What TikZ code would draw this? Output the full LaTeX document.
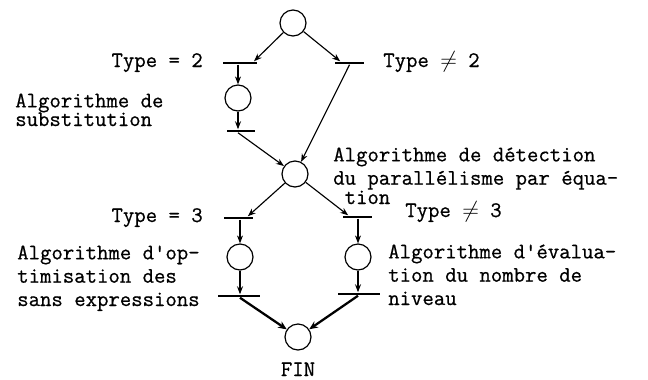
\documentclass[tikz,border=0pt]{standalone}
\usepackage{fontspec}
\newfontfamily\typewriter{Latin Modern Mono}[FakeBold=0.7]
\usepackage{tikz}
\usetikzlibrary{arrows.meta}
\tikzstyle{place} = [circle, draw=black, line width=0.9pt, minimum size=19.5pt, inner sep=0pt]
\tikzstyle{transition} = [rectangle, fill=black, minimum height=2.2pt, inner sep=0pt]
\tikzstyle{arrow} = [line width=0.85pt,-{Stealth[length=6pt,width=4.5pt]}]
\tikzstyle{heavy} = [line width=1.7pt,-{Stealth[length=6.5pt,width=5.5pt]}]
\tikzstyle{annot} = [inner sep=0pt, align=left, font=\typewriter\fontsize{16.6}{17.5}\selectfont]

\begin{document}
\begin{tikzpicture}[x=0.75pt, y=-0.75pt]
		\useasboundingbox (0,0) rectangle (648,379);
		% places
		\node (start) [place] at (293,23) {};
		\node (subst) [place] at (238,98) {};
		\node (detect) [place] at (295,174) {};
		\node (optim) [place] at (240,257) {};
		\node (eval) [place] at (358,257) {};
		\node (fin) [place] at (298,337) {};
		% transitions
		\node (eqTwo) [transition, minimum width=25.5pt] at (240,63) {};
		\node (neTwo) [transition, minimum width=21.75pt] at (349.5,63) {};
		\node (substEnd) [transition, minimum width=21pt] at (241,131) {};
		\node (eqThree) [transition, minimum width=21.75pt] at (238.5,218) {};
		\node (neThree) [transition, minimum width=21.75pt] at (357.5,217) {};
		\node (optimEnd) [transition, minimum width=31.5pt] at (239,296) {};
		\node (evalEnd) [transition, minimum width=31.5pt] at (359,294) {};
		% texts (base = last line)
		\node (tEqTwo) [annot, anchor=base east] at (203,67) {Type = 2};
		\node (tNeTwo) [annot, anchor=base west] at (383,67) {Type $\neq$ 2};
		\node (tSubst) [annot, anchor=base west] at (15,126) {Algorithme de\\[-3.5pt]substitution};
		\node (tDetect) [annot, anchor=base west] at (333,204) {Algorithme de détection\\du parallélisme par équa-\\[-3pt]\phantom{t}tion};
		\node (tEqThree) [annot, anchor=base east] at (203,222) {Type = 3};
		\node (tNeThree) [annot, anchor=base west] at (405,217) {Type $\neq$ 3};
		\node (tOptim) [annot, anchor=base west] at (17,306) {Algorithme d'op-\\timisation des\\sans expressions};
		\node (tEval) [annot, anchor=base west] at (388,305) {Algorithme d'évalua-\\tion du nombre de\\niveau};
		\node (tFin) [annot, anchor=base] at (298,376) {FIN};
		% arcs
		\draw [arrow] (start) -- ([xshift=10.5pt]eqTwo.north);
		\draw [arrow] (start) -- ([xshift=-7pt]neTwo.north);
		\draw [arrow] (eqTwo.south -| subst) -- (subst);
		\draw [arrow] (subst) -- (substEnd.north -| subst);
		\draw [arrow] (substEnd.south -| subst) -- (detect);
		\draw [arrow] (neTwo.south) -- (detect);
		\draw [arrow] (detect) -- ([xshift=7pt]eqThree.north);
		\draw [arrow] (detect) -- ([xshift=-7pt]neThree.north);
		\draw [arrow] (eqThree.south -| optim) -- (optim);
		\draw [arrow] (optim) -- (optimEnd.north -| optim);
		\draw [arrow] (neThree.south -| eval) -- (eval);
		\draw [arrow] (eval) -- (evalEnd.north -| eval);
		\draw [heavy] (optimEnd.south -| optim) -- (fin);
		\draw [heavy] (evalEnd.south -| eval) -- (fin);
	\end{tikzpicture}
\end{document}
